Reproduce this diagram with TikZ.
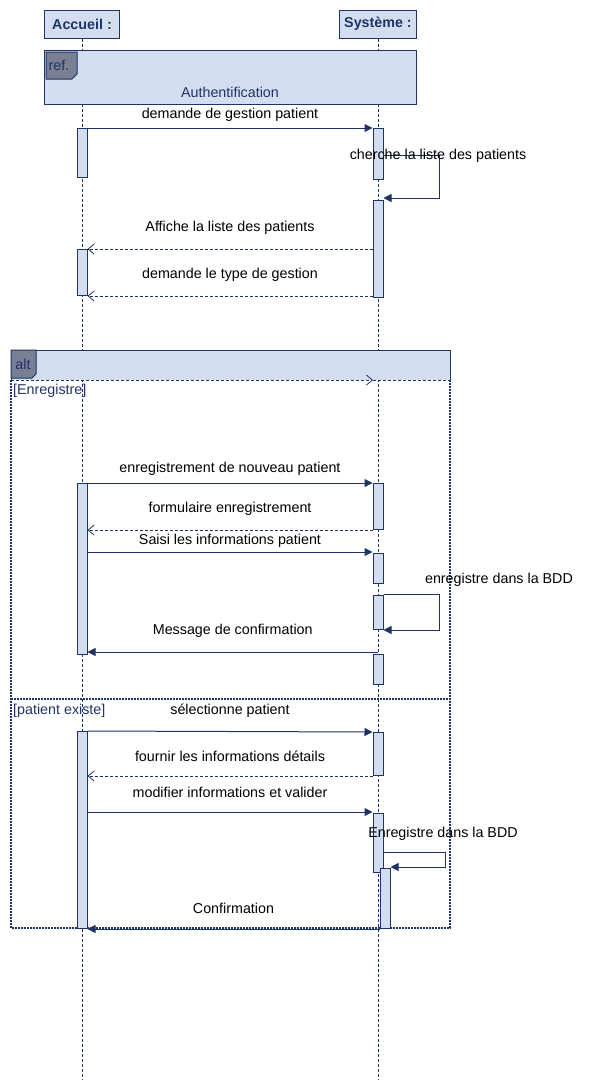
\documentclass[tikz,border=0pt]{standalone}
\usepackage{fontspec}
\setmainfont{Liberation Sans}
\usetikzlibrary{arrows.meta,positioning}
\definecolor{navy}{RGB}{31,51,102}
\definecolor{paleblue}{RGB}{210,221,240}
\definecolor{taggray}{RGB}{122,128,148}
\begin{document}
\begin{tikzpicture}[
    x=1pt, y=-1pt,
    font=\fontsize{14.3}{17}\selectfont,
    head/.style={rectangle, draw=navy, fill=paleblue, line width=1pt, minimum width=75pt, minimum height=28pt, inner sep=0pt, font=\fontsize{14.3}{17}\selectfont\bfseries, text=navy},
    life/.style={navy, line width=0.8pt, dash pattern=on 3pt off 2pt},
    act/.style={rectangle, draw=navy, fill=paleblue, line width=1pt, minimum width=10pt, inner sep=0pt, anchor=north},
    msg/.style={-{Triangle[length=8pt,width=8pt]}, navy, line width=1pt},
    reply/.style={-{Straight Barb[length=6pt,width=10pt]}, navy, line width=0.8pt, dash pattern=on 3pt off 2pt},
    msglabel/.style={text=black, inner sep=0pt},
    framebox/.style={rectangle, draw=navy, fill=paleblue, line width=1pt},
    tag/.style={draw=navy, fill=taggray, line width=1pt},
    guard/.style={text=navy, anchor=west, inner sep=0pt},
    frameedge/.style={navy, line width=1.5pt, dash pattern=on 2pt off 1pt}
]
    \useasboundingbox (0,0) rectangle (596,1090);

    \node[head] (accueil) at (82,24) {Accueil :};
    \node[head, minimum width=77pt] (systeme) at (378,24) {Système :};
    \coordinate (accueilEnd) at (82,1080);
    \coordinate (systemeEnd) at (378,1080);
    \draw[life] (accueil.south) -- (accueilEnd);
    \draw[life] (systeme.south) -- (systemeEnd);

    % ref frame
    \node[framebox, minimum width=372pt, minimum height=54pt] (ref) at (230,77) {};
    \draw[tag] (46,52) -- (77,52) -- (77,74) -- (72,79) -- (46,79) -- cycle;
    \node[text=navy] (reftag) at (59,65) {ref.};
    \node[text=navy] (auth) at (230,92) {Authentification};

    \node[act, minimum height=49pt] (acc1) at (82,128) {};
    \node[act, minimum height=51pt] (sys1) at (378,128) {};
    \node[act, minimum height=97pt] (sys2) at (378,200) {};
    \node[act, minimum height=46pt] (acc2) at (82,249) {};

    \draw[msg] (acc1.north east) -- node[msglabel, above=6pt] {demande de gestion patient} (sys1.north west);
    \draw[msg] ([yshift=-27pt]sys1.north east) -- ++(56,0) |- ([yshift=2pt]sys2.north east);
    \node[msglabel] (cherche) at (438,156) {cherche la liste des patients};
    \draw[reply] (sys2.west |- acc2.north) -- node[msglabel, above=14pt] {Affiche la liste des patients} (acc2.north east);
    \draw[reply] (sys2.west |- acc2.south) -- node[msglabel, above=14pt] {demande le type de gestion} (acc2.south east);

    % alt frame
    \fill[paleblue] (11,350) rectangle (450,380);
    \draw[navy, line width=1pt] (11,380) -- (11,350) -- (450,350) -- (450,380);
    \draw[frameedge] (11,380) -- (11,928) -- (450,928) -- (450,380);
    \draw[frameedge] (11,699) -- (450,699);
    \coordinate (altL) at (11,380);
    \coordinate (altS) at (373,380);
    \coordinate (altR) at (450,380);
    \draw[reply] (altL) -- (altS);
    \draw[life] (altS) -- (altR);
    \draw[tag] (11,350) -- (36,350) -- (36,374) -- (32,378) -- (11,378) -- cycle;
    \node[text=navy] (alttag) at (23,364) {alt};
    \node[guard] (guard1) at (13,391) {[Enregistre]};
    \node[guard] (guard2) at (13,711) {[patient existe]};

    \node[act, minimum height=171pt] (acc3) at (82,483) {};
    \node[act, minimum height=46pt] (sys3) at (378,483) {};
    \node[act, minimum height=30pt] (sys4) at (378,553) {};
    \node[act, minimum height=34pt] (sys5) at (378,595) {};
    \node[act, minimum height=30pt] (sys6) at (378,654) {};
    \node[act, minimum height=197pt] (acc4) at (82,731) {};
    \node[act, minimum height=43pt] (sys7) at (378,732) {};
    \node[act, minimum height=59pt] (sys8) at (378,813) {};
    \node[act, minimum height=60pt] (sys9) at (385,868) {};

    \draw[msg] (acc3.north east) -- node[msglabel, above=7pt] {enregistrement de nouveau patient} (sys3.north west);
    \draw[reply] (sys3.south west) -- node[msglabel, above=14pt] {formulaire enregistrement} (acc3.east |- sys3.south);
    \draw[msg] ([yshift=1pt]acc3.east |- sys4.north) -- node[msglabel, above=4pt] {Saisi les informations patient} ([yshift=1pt]sys4.north west);
    \draw[msg] ([yshift=1pt]sys5.north east) -- ++(56,0) |- (sys5.south east);
    \node[msglabel] (bdd1) at (499,580) {enregistre dans la BDD};
    \draw[msg] ([yshift=2pt]sys6.north) -- node[msglabel, above=14pt] {Message de confirmation} ([yshift=2pt]acc3.east |- sys6.north);

    \draw[msg] (acc4.north east) -- node[msglabel, above=14pt] {sélectionne patient} (sys7.north west);
    \draw[reply] (sys7.south west) -- node[msglabel, above=14pt] {fournir les informations détails} (acc4.east |- sys7.south);
    \draw[msg] ([yshift=1pt]acc4.east |- sys8.north) -- node[msglabel, above=14pt] {modifier informations et valider} ([yshift=1pt]sys8.north west);
    \draw[msg] ([yshift=-39pt]sys8.north east) -- ++(62,0) |- ([yshift=1pt]sys9.north east);
    \node[msglabel] (bdd2) at (443,834) {Enregistre dans la BDD};
    \draw[msg] (sys9.south west) -- node[msglabel, above=15pt] {Confirmation} (acc4.south east);
\end{tikzpicture}
\end{document}
